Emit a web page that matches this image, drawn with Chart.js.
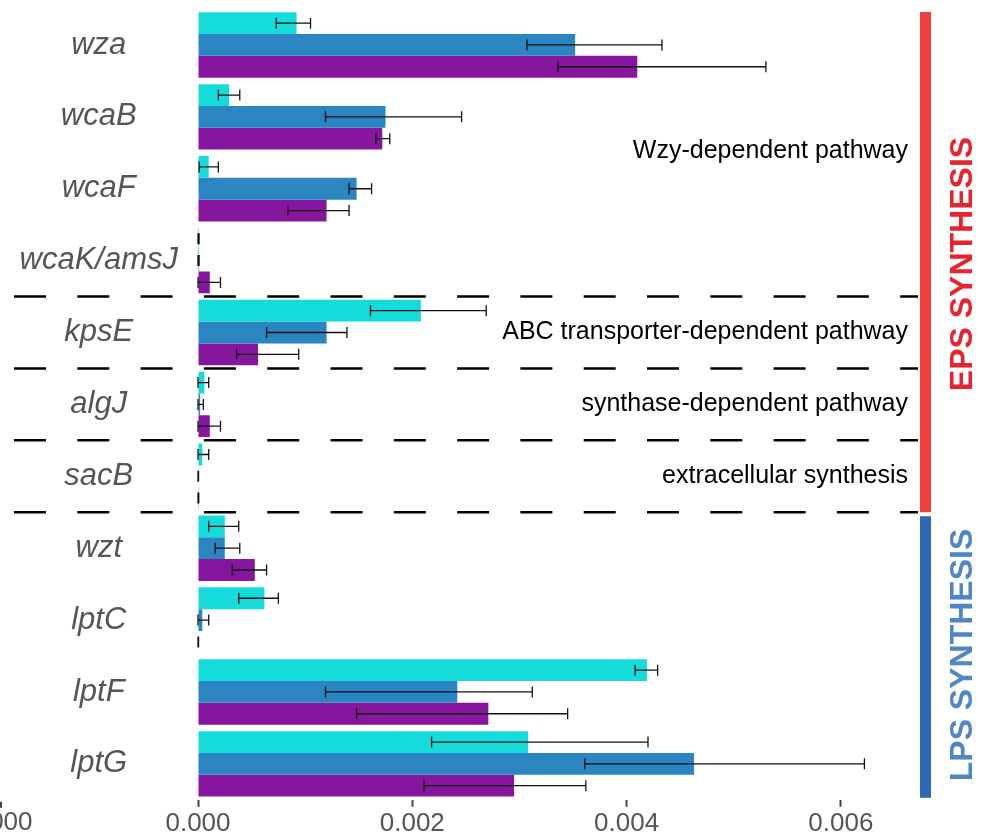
<!DOCTYPE html>
<html>
<head>
<meta charset="utf-8">
<script src="https://cdn.jsdelivr.net/npm/chart.js@4/dist/chart.umd.min.js"></script>
<style>
  html, body { margin: 0; padding: 0; background: #fff; }
  #wrap { position: relative; width: 981px; height: 840px; }
</style>
</head>
<body>
<div id="wrap"><canvas id="myChart"></canvas></div>
<script>
// genes (categories)
const genes = ['wza', 'wcaB', 'wcaF', 'wcaK/amsJ', 'kpsE', 'algJ', 'sacB', 'wzt', 'lptC', 'lptF', 'lptG'];

// series values
const cyanVals   = [0.00092, 0.00029, 0.00010, 0.00001, 0.00208, 0.00006, 0.00004, 0.00025, 0.00062, 0.00419, 0.00308];
const blueVals   = [0.00352, 0.00175, 0.00148, 0.00001, 0.00120, 0.00002, 0.000005, 0.00025, 0.00004, 0.00242, 0.00463];
const purpleVals = [0.00410, 0.00172, 0.00120, 0.00011, 0.00056, 0.00011, 0.000007, 0.00053, 0.000005, 0.00271, 0.00295];

// error bar ends (low / high)
const cyanLow    = [0.00073, 0.00019, 0.00001, 0.0, 0.00161, 0.0, 0.0, 0.00010, 0.00038, 0.00408, 0.00218];
const cyanHigh   = [0.00105, 0.00039, 0.00019, 0.00001, 0.00269, 0.00010, 0.00010, 0.00038, 0.00075, 0.00429, 0.00420];
const blueLow    = [0.00307, 0.00119, 0.00141, 0.0, 0.00064, 0.0, 0.0, 0.00016, 0.0, 0.00119, 0.00361];
const blueHigh   = [0.00433, 0.00246, 0.00162, 0.00001, 0.00139, 0.00005, 0.000005, 0.00039, 0.00010, 0.00312, 0.00622];
const purpleLow  = [0.00336, 0.00166, 0.00084, 0.0, 0.00036, 0.0, 0.0, 0.00032, 0.0, 0.00148, 0.00211];
const purpleHigh = [0.00530, 0.00179, 0.00141, 0.00021, 0.00094, 0.00021, 0.000007, 0.00064, 0.000005, 0.00345, 0.00362];

// x tick values
const xTicks = [0, 0.002, 0.004, 0.006];

// pathway groups: [first gene index, last gene index, label]
const pathways = [
  [0, 3, 'Wzy-dependent pathway'],
  [4, 4, 'ABC transporter-dependent pathway'],
  [5, 5, 'synthase-dependent pathway'],
  [6, 6, 'extracellular synthesis']
];
const dashAfter = [3, 4, 5, 6];

const errLow = [cyanLow, blueLow, purpleLow];
const errHigh = [cyanHigh, blueHigh, purpleHigh];

const errorBars = {
  id: 'errorBars',
  afterDatasetsDraw(chart) {
    const ctx = chart.ctx, xs = chart.scales.x;
    ctx.save();
    ctx.strokeStyle = '#111';
    ctx.lineWidth = 1.3;
    chart.data.datasets.forEach((ds, i) => {
      const meta = chart.getDatasetMeta(i);
      meta.data.forEach((bar, j) => {
        const x1 = xs.getPixelForValue(errLow[i][j]);
        const x2 = xs.getPixelForValue(errHigh[i][j]);
        const y = bar.y;
        ctx.beginPath();
        ctx.moveTo(x1, y); ctx.lineTo(x2, y);
        ctx.moveTo(x1, y - 5.5); ctx.lineTo(x1, y + 5.5);
        ctx.moveTo(x2, y - 5.5); ctx.lineTo(x2, y + 5.5);
        ctx.stroke();
      });
    });
    ctx.restore();
  }
};

const annotations = {
  id: 'annotations',
  afterDraw(chart) {
    const ctx = chart.ctx, ys = chart.scales.y, area = chart.chartArea;
    const half = (ys.getPixelForValue(1) - ys.getPixelForValue(0)) / 2;
    ctx.save();
    // dashed separators
    ctx.strokeStyle = '#000';
    ctx.lineWidth = 2.5;
    ctx.setLineDash([32, 31.3]);
    dashAfter.forEach(k => {
      const y = ys.getPixelForValue(k) + half;
      ctx.beginPath();
      ctx.moveTo(14, y); ctx.lineTo(918, y);
      ctx.stroke();
    });
    ctx.setLineDash([]);
    // pathway labels
    ctx.fillStyle = '#000';
    ctx.font = '25px "Liberation Sans", Arial, sans-serif';
    ctx.textAlign = 'right';
    ctx.textBaseline = 'middle';
    pathways.forEach(p => {
      const y = (ys.getPixelForValue(p[0]) + ys.getPixelForValue(p[1])) / 2;
      ctx.fillText(p[2], 908, y + (p[0] === 0 ? -2 : 0));
    });
    // group bars
    const epsTop = ys.getPixelForValue(0) - half + 3;
    const epsBot = ys.getPixelForValue(6) + half;
    const lpsTop = epsBot + 4;
    const lpsBot = ys.getPixelForValue(10) + half - 2;
    ctx.fillStyle = '#ef4040';
    ctx.fillRect(920, epsTop, 11, epsBot - epsTop);
    ctx.fillStyle = '#2f68b3';
    ctx.fillRect(920, lpsTop, 11, lpsBot - lpsTop);
    ctx.font = 'bold 32px "Liberation Sans", Arial, sans-serif';
    ctx.textAlign = 'center';
    ctx.textBaseline = 'middle';
    ctx.save();
    ctx.translate(963, 264);
    ctx.rotate(-Math.PI / 2);
    ctx.fillStyle = '#e8222e';
    ctx.fillText('EPS SYNTHESIS', 0, 0);
    ctx.restore();
    ctx.save();
    ctx.translate(963, 655);
    ctx.rotate(-Math.PI / 2);
    ctx.fillStyle = '#4f86c6';
    ctx.fillText('LPS SYNTHESIS', 0, 0);
    ctx.restore();
    // edge of the neighbouring panel
    ctx.fillStyle = '#444';
    ctx.fillRect(0, area.bottom + 2, 2, 6);
    ctx.fillStyle = '#555';
    ctx.font = '26px "Liberation Sans", Arial, sans-serif';
    ctx.textBaseline = 'middle';
    ctx.fillText('0.000', 0, 823);
    ctx.restore();
  }
};

const data = {
  labels: genes,
  datasets: [
    { label: 'cyan', data: cyanVals, backgroundColor: '#15dcdb' },
    { label: 'blue', data: blueVals, backgroundColor: '#2a85c1' },
    { label: 'purple', data: purpleVals, backgroundColor: '#85169d' }
  ]
};

const options = {
  indexAxis: 'y',
  responsive: true,
  maintainAspectRatio: false,
  animation: false,
  layout: { padding: { top: 9, right: 63, bottom: 0, left: 0 } },
  datasets: { bar: { categoryPercentage: 0.91, barPercentage: 1.0, borderWidth: 0 } },
  plugins: { legend: { display: false }, tooltip: { enabled: false } },
  scales: {
    x: {
      min: 0,
      max: 0.00672,
      afterBuildTicks: axis => { axis.ticks = xTicks.map(v => ({ value: v })); },
      border: { display: false },
      grid: { drawOnChartArea: false, tickLength: 7, tickWidth: 2, tickColor: '#444' },
      ticks: {
        color: '#555',
        padding: 1,
        font: { family: '"Liberation Sans", Arial, sans-serif', size: 26 },
        callback: v => v.toFixed(3)
      }
    },
    y: {
      afterFit: axis => {
        axis.width = 198;
        axis.paddingTop = 0;
        axis.paddingBottom = 0;
      },
      border: { display: false },
      grid: { display: false },
      ticks: {
        color: '#555',
        crossAlign: 'center',
        padding: 12,
        font: { family: '"Liberation Sans", Arial, sans-serif', size: 31, style: 'italic' }
      }
    }
  }
};

new Chart(document.getElementById('myChart'), {
  type: 'bar',
  data: data,
  options: options,
  plugins: [errorBars, annotations]
});
</script>
</body>
</html>
